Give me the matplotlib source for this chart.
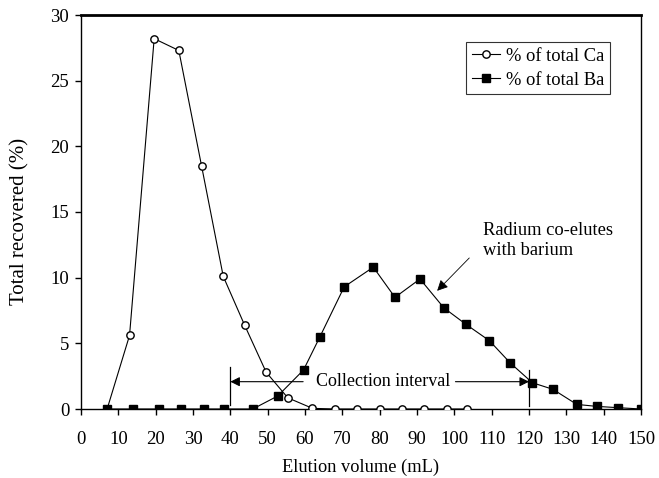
import matplotlib
matplotlib.use("Agg")
import matplotlib.pyplot as plt

ca_x = [7, 13, 19.6, 26.2, 32.3, 38.1, 43.8, 49.6, 55.4, 62, 68, 74, 80, 86, 92, 98, 103.3]
ca_y = [0, 5.6, 28.2, 27.3, 18.5, 10.1, 6.4, 2.8, 0.85, 0.05, 0, 0, 0, 0, 0, 0, 0]

ba_x = [7, 14, 20.8, 26.7, 33, 38.4, 46, 52.7, 59.6, 64, 70.5, 78.3, 84.1, 90.8, 97.2,
        103.1, 109.4, 115, 120.9, 126.4, 132.8, 138.1, 143.9, 150]
ba_y = [0, 0, 0, 0, 0, 0, 0, 0.99, 2.97, 5.5, 9.3, 10.8, 8.5, 9.9, 7.7,
        6.45, 5.2, 3.5, 2.0, 1.5, 0.35, 0.2, 0.1, 0]

x_ticks = list(range(0, 151, 10))
y_ticks = list(range(0, 31, 5))

plt.rcParams['font.family'] = ['Liberation Serif', 'DejaVu Serif']

fig = plt.figure(figsize=(6.59, 4.78), dpi=100)
ax = fig.add_axes([81 / 659, 1 - 409 / 478, 560 / 659, 394 / 478])

ax.plot(ca_x, ca_y, '-o', color='black', lw=0.8, markerfacecolor='white',
        markeredgecolor='black', markersize=5.3, markeredgewidth=1.0,
        label='% of total Ca', zorder=3)
ax.plot(ba_x, ba_y, '-s', color='black', lw=0.8, markerfacecolor='black',
        markersize=5.2, label='% of total Ba', zorder=3)

ax.set_xlim(0, 150)
ax.set_ylim(0, 30)
ax.set_xticks(x_ticks)
ax.set_yticks(y_ticks)
ax.tick_params(axis='both', direction='out', length=4.5, width=1, labelsize=13.5)
ax.tick_params(axis='x', pad=11.5)
ax.tick_params(axis='y', pad=4)
for s in ax.spines.values():
    s.set_linewidth(1.0)
ax.spines['top'].set_linewidth(2.0)

ax.set_xlabel('Elution volume (mL)', fontsize=13.2)
ax.xaxis.set_label_coords(0.5, -(459 - 409) / 394, transform=ax.transAxes)
ax.set_ylabel('Total recovered (%)', fontsize=15)
ax.yaxis.set_label_coords(-(81 - 29) / 560, (409 - 221) / 394, transform=ax.transAxes)

leg = ax.legend(loc='upper right', bbox_to_anchor=((610 - 81) / 560, (409 - 42) / 394),
                fontsize=13.3, frameon=True, fancybox=False, edgecolor='black',
                handlelength=1.5, handletextpad=0.35, borderpad=0.3, labelspacing=0.4,
                borderaxespad=0)
leg.get_frame().set_linewidth(0.8)

# Collection interval
ax.plot([40, 40], [0.3, 3.2], color='black', lw=0.9)
ax.plot([120, 120], [0.2, 3.0], color='black', lw=0.9)
ax.text(81, 2.08, 'Collection interval', ha='center', va='center', fontsize=13.0)
ax.annotate('', xy=(40, 2.08), xytext=(59.5, 2.08),
            arrowprops=dict(arrowstyle='-|>', color='black', lw=0.8,
                            mutation_scale=14, shrinkA=0, shrinkB=0))
ax.annotate('', xy=(120, 2.08), xytext=(100.3, 2.08),
            arrowprops=dict(arrowstyle='-|>', color='black', lw=0.8,
                            mutation_scale=14, shrinkA=0, shrinkB=0))

# Radium annotation
ax.text(107.8, 12.8, 'Radium co-elutes\nwith barium', ha='left', va='center',
        fontsize=13.3, linespacing=1.22)
ax.annotate('', xy=(95.4, 9.0), xytext=(104.0, 11.5),
            arrowprops=dict(arrowstyle='-|>', color='black', lw=0.6,
                            mutation_scale=16, shrinkA=0, shrinkB=0))

fig.savefig('out.png', dpi=100)
